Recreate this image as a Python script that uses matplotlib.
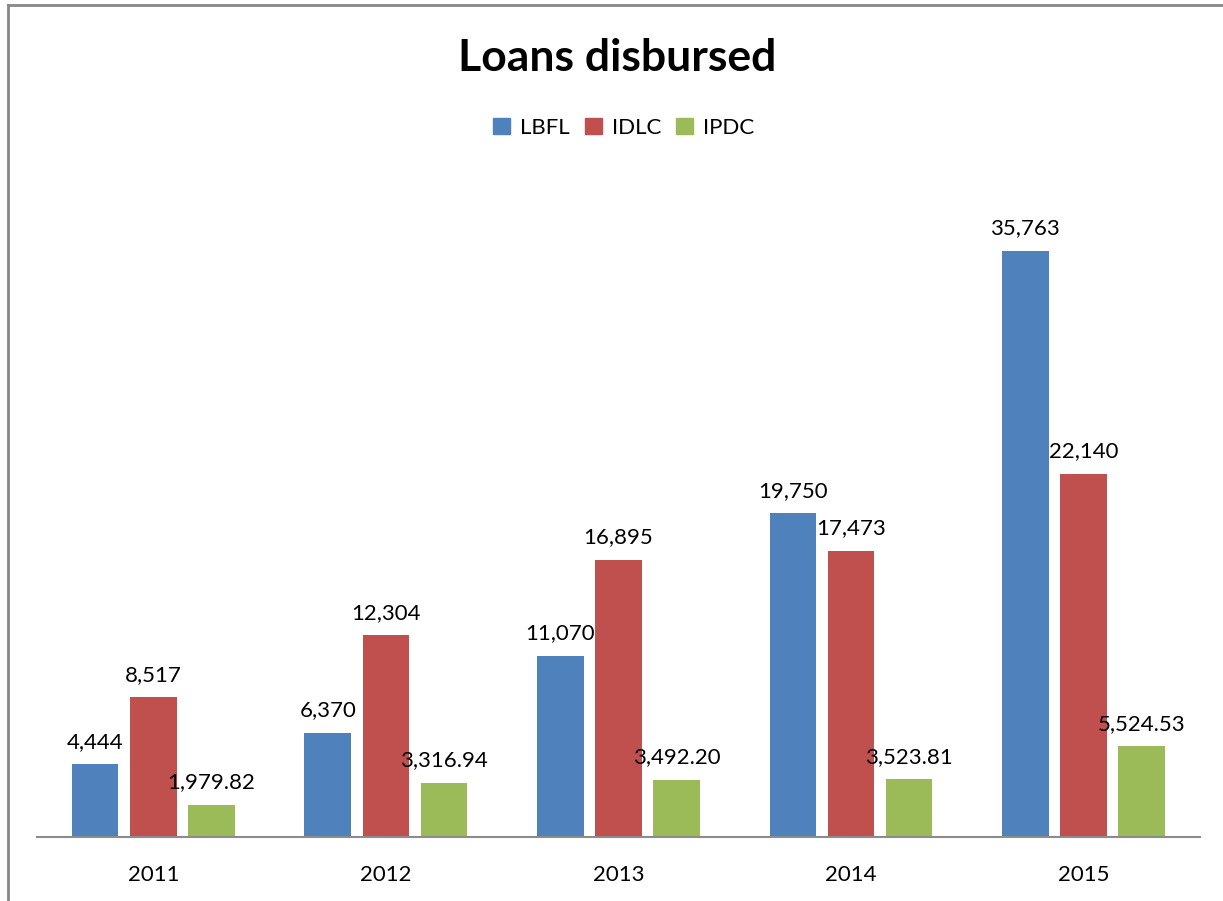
import numpy as np
import matplotlib.pyplot as plt
from matplotlib.patches import Patch
from matplotlib.lines import Line2D

plt.rcParams['font.family'] = ['Lato', 'DejaVu Sans']

# data
years = ['2011', '2012', '2013', '2014', '2015']
lbfl = [4444, 6370, 11070, 19750, 35763]
idlc = [8517, 12304, 16895, 17473, 22140]
ipdc = [1979.82, 3316.94, 3492.20, 3523.81, 5524.53]
lbfl_labels = ['4,444', '6,370', '11,070', '19,750', '35,763']
idlc_labels = ['8,517', '12,304', '16,895', '17,473', '22,140']
ipdc_labels = ['1,979.82', '3,316.94', '3,492.20', '3,523.81', '5,524.53']

colors = ['#4F81BD', '#C0504D', '#9BBB59']

fig = plt.figure(figsize=(12.23, 9.01), dpi=100)
ax = fig.add_axes([0.0303, 0.071, 0.9507, 0.728])

x = np.arange(len(years))
w = 0.2
series = [(lbfl, lbfl_labels, 'LBFL'), (idlc, idlc_labels, 'IDLC'), (ipdc, ipdc_labels, 'IPDC')]
for i, (vals, labs, name) in enumerate(series):
    pos = x + (i - 1) * 0.25
    ax.bar(pos, vals, width=w, color=colors[i])
    for p, v, l in zip(pos, vals, labs):
        ax.annotate(l, (p, v), xytext=(0, 9), textcoords='offset points',
                    ha='center', va='bottom', fontsize=16)

ax.set_xlim(-0.5, 4.5)
ax.set_ylim(0, 40000)
ax.set_xticks(x)
ax.set_xticklabels(years, fontsize=16)
ax.tick_params(axis='x', length=0, pad=20)
ax.set_yticks([])
for s in ['top', 'right', 'left']:
    ax.spines[s].set_visible(False)
ax.spines['bottom'].set_color('#8c8c8c')
ax.spines['bottom'].set_linewidth(1.5)

fig.text(0.505, 0.936, 'Loans disbursed', ha='center', va='center',
         fontsize=32, fontweight='bold')

handles = [Patch(color=c) for c in colors]
fig.legend(handles, ['LBFL', 'IDLC', 'IPDC'], loc='center', bbox_to_anchor=(0.510, 0.858),
           ncol=3, frameon=False, fontsize=16, handlelength=0.75, handleheight=0.75,
           handletextpad=0.45, columnspacing=0.7)

# chart border (left and top edges)
fig.add_artist(Line2D([8 / 1223, 8 / 1223], [0, 1 - 5 / 901], color='#888888', lw=2))
fig.add_artist(Line2D([8 / 1223, 1], [1 - 5 / 901, 1 - 5 / 901], color='#888888', lw=2))

fig.savefig('out.png', dpi=100)
